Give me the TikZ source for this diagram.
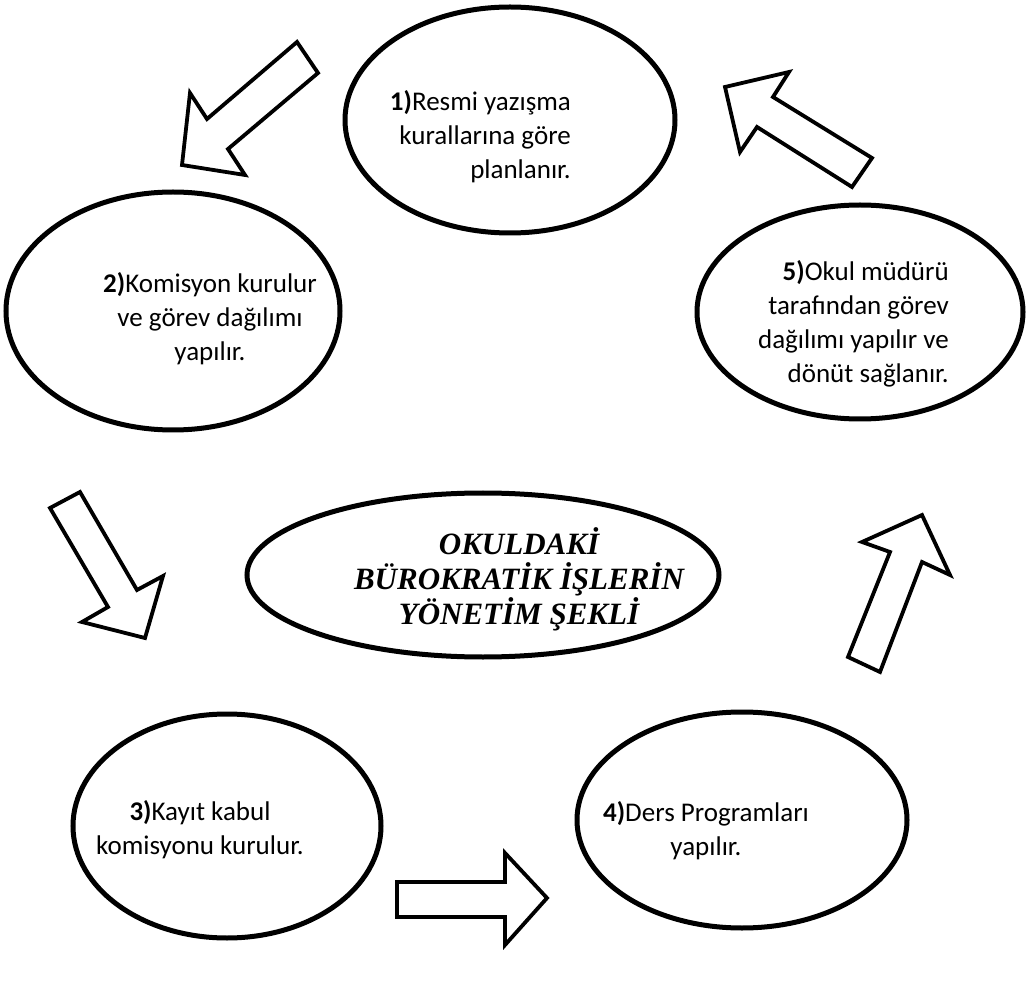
\documentclass[tikz,border=0pt]{standalone}
\usepackage{fontspec}
\setmainfont{Carlito}
\newfontfamily\titlefont{Liberation Serif}
\usetikzlibrary{shapes.geometric}

\tikzset{
  stage/.style={ellipse, draw=black, line width=5pt, inner sep=0pt, fill=white},
  stagetext/.style={font=\fontsize{27}{34}\selectfont, text=black, inner sep=0pt},
  blockarrow/.style={draw=black, line width=3.8pt, line join=miter, fill=white},
}

\begin{document}
\begin{tikzpicture}[x=1pt, y=-1pt]
  \useasboundingbox (0,0) rectangle (1026,981);

  % stage ellipses
  \node[stage, minimum width=330pt, minimum height=226pt] (e1) at (510,120) {};
  \node[stage, minimum width=334pt, minimum height=238pt] (e2) at (173,311) {};
  \node[stage, minimum width=308pt, minimum height=224pt] (e3) at (227,826) {};
  \node[stage, minimum width=330pt, minimum height=216pt] (e4) at (742,820) {};
  \node[stage, minimum width=326pt, minimum height=214pt] (e5) at (860,312) {};
  \node[stage, minimum width=472pt, minimum height=164pt] (ec) at (483,575) {};

  % stage texts
  \node[stagetext, align=right, anchor=east] (t1) at (571,137)
    {\textbf{1)}Resmi yazışma\\kurallarına göre\\planlanır.};
  \node[stagetext, align=center] (t2) at (210,319)
    {\textbf{2)}Komisyon kurulur\\ve görev dağılımı\\yapılır.};
  \node[stagetext, align=center] (t3) at (200,830)
    {\textbf{3)}Kayıt kabul\\komisyonu kurulur.};
  \node[stagetext, align=center] (t4) at (706,831)
    {\textbf{4)}Ders Programları\\yapılır.};
  \node[stagetext, align=right, anchor=east] (t5) at (949,324)
    {\textbf{5)}Okul müdürü\\tarafından görev\\dağılımı yapılır ve\\dönüt sağlanır.};
  \node[align=center, inner sep=0pt, font=\titlefont\bfseries\itshape\fontsize{31}{35}\selectfont] (tc) at (519,579)
    {OKULDAKİ\\BÜROKRATİK İŞLERİN\\YÖNETİM ŞEKLİ};

  % block arrows between the stages
  \draw[blockarrow] (297,42) -- (207,119) -- (190,93) -- (182,165) -- (245,175) -- (228,149) -- (318,73) -- cycle;
  \draw[blockarrow] (50,508) -- (80,492) -- (137,590) -- (163,576) -- (145,638) -- (82,622) -- (108,607) -- cycle;
  \draw[blockarrow] (397,882) -- (505,882) -- (505,853) -- (547,898) -- (505,945) -- (505,917) -- (397,917) -- cycle;
  \draw[blockarrow] (848,657) -- (890,552) -- (862,542) -- (922,515) -- (950,575) -- (922,562) -- (880,672) -- cycle;
  \draw[blockarrow] (872,158) -- (773,97) -- (789,72) -- (725,87) -- (740,152) -- (757,127) -- (852,187) -- cycle;
\end{tikzpicture}
\end{document}
